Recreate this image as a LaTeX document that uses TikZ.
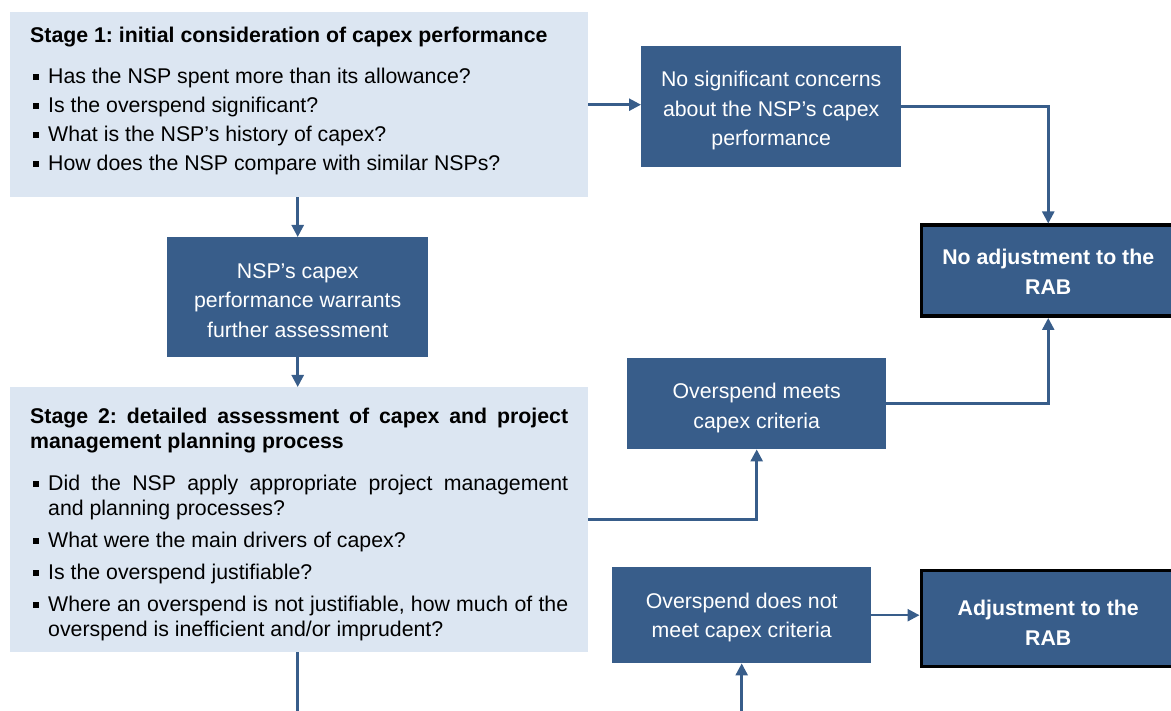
\documentclass[tikz,border=0pt]{standalone}
\usepackage{fontspec}
\setmainfont{Liberation Sans}
\usepackage{tikz}
\usetikzlibrary{arrows.meta}
\definecolor{stagefill}{HTML}{DCE6F2}
\definecolor{boxblue}{HTML}{385D8A}
\newcommand{\sqbullet}{\rule[0.18em]{0.27em}{0.27em}}
\newcommand{\qitem}[1]{\par\hangindent=18pt\hangafter=1\noindent\makebox[18pt][l]{\hspace{3pt}\sqbullet}#1\par}
\newcommand{\topgap}[1]{\rule{0pt}{#1}}
\tikzstyle{stagebox} = [rectangle, fill=stagefill, anchor=north west, inner xsep=20pt, inner ysep=0pt, text width=538pt, minimum width=578pt, align=justify]
\tikzstyle{outcome} = [rectangle, fill=boxblue, text=white, anchor=north west, inner sep=0pt, align=center, font=\fontsize{21.3}{29.5}\selectfont]
\tikzstyle{result} = [outcome, draw=black, line width=3.5pt, font=\fontsize{21.3}{29.5}\selectfont\bfseries]
\tikzstyle{link} = [boxblue, line width=2.5pt]
\tikzstyle{arrow} = [link, -{Triangle[length=12pt,width=12pt]}]

\begin{document}
\begin{tikzpicture}[x=1pt, y=-1pt]
    \useasboundingbox (0,0) rectangle (1171,711);

    % Nodes
    \node (stage1) [stagebox, minimum height=185pt, font=\fontsize{21.3}{29}\selectfont\frenchspacing] at (10,12) {%
        {\bfseries Stage 1: initial consideration of capex performance}\par\vspace{12pt}
        \qitem{Has the NSP spent more than its allowance?}
        \qitem{Is the overspend significant?}
        \qitem{What is the NSP's history of capex?}
        \qitem{How does the NSP compare with similar NSPs?\rule[-11pt]{0pt}{1pt}}};
    \node (warrant) [outcome, minimum width=261pt, minimum height=120pt] at (167,237) {\topgap{21pt}NSP's capex\\performance warrants\\further assessment};
    \node (stage2) [stagebox, minimum height=265pt, font=\fontsize{21.3}{25}\selectfont\frenchspacing] at (10,387) {%
        \hyphenpenalty=10000\setlength{\parskip}{7pt}%
        {\bfseries\topgap{25pt}Stage 2: detailed assessment of capex and project management planning process}\par\vspace{10pt}
        \qitem{Did the NSP apply appropriate project management\linebreak and planning processes?}
        \qitem{What were the main drivers of capex?}
        \qitem{Is the overspend justifiable?}
        \qitem{Where an overspend is not justifiable, how much of the overspend is inefficient and/or imprudent?}};

    \node (noconcern) [outcome, minimum width=260pt, minimum height=121pt] at (641,46) {\topgap{24pt}No significant concerns\\about the NSP's capex\\performance};
    \node (meets) [outcome, minimum width=259pt, minimum height=91pt] at (627,358) {\topgap{24pt}Overspend meets\\capex criteria};
    \node (notmeet) [outcome, minimum width=259pt, minimum height=96pt] at (612,567) {\topgap{20pt}Overspend does not\\meet capex criteria};

    \node (noadj) [result, minimum width=254pt, minimum height=91pt] at (919.5,223.5) {\topgap{18pt}No adjustment to the\\RAB};
    \node (adj) [result, minimum width=254pt, minimum height=96pt] at (919.5,568.5) {\topgap{24pt}Adjustment to the\\RAB};

    % Arrows
    \draw [arrow] (stage1.east) -- (stage1.east -| noconcern.west);
    \draw [arrow] (noconcern.east) -| (noadj.north);
    \draw [arrow] (warrant.north |- stage1.south) -- (warrant.north);
    \draw [arrow] (warrant.south) -- (stage2.north -| warrant.south);

    \draw [arrow] (stage2.east) -| (meets.south);
    \draw [arrow] (meets.east) -| (noadj.south);
    \draw [arrow] (notmeet.east) -- (notmeet.east -| adj.west);
    \draw [arrow] (warrant.south |- stage2.south) -- ++(0,80) -| (notmeet.south);

\end{tikzpicture}
\end{document}
